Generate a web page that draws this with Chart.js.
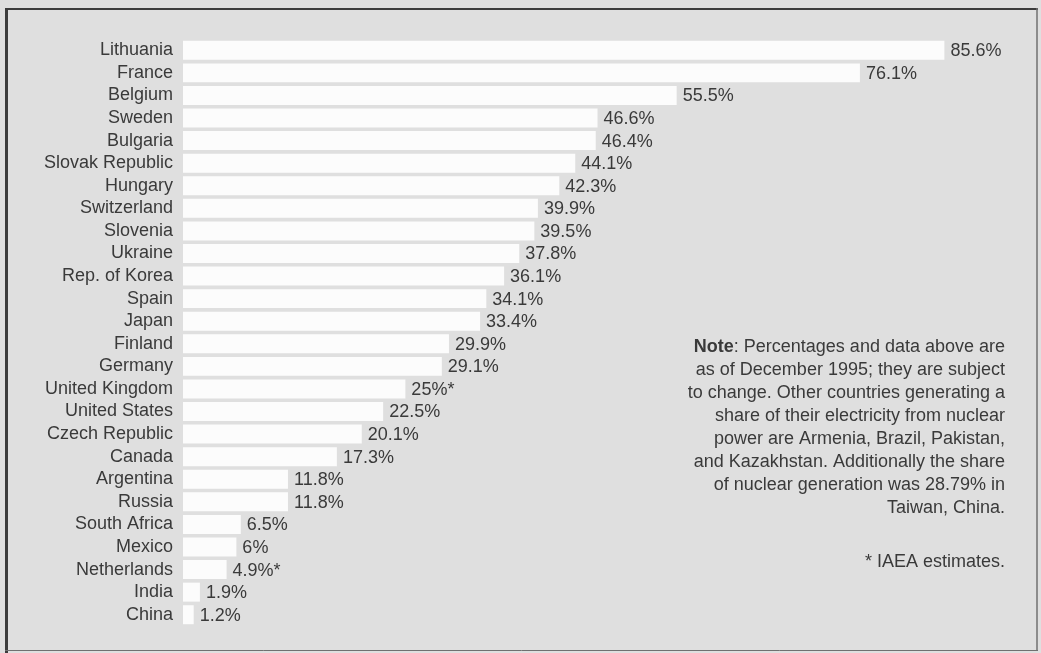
<!DOCTYPE html>
<html>
<head>
<meta charset="utf-8">
<title>Nuclear share of electricity generation</title>
<script src="https://cdn.jsdelivr.net/npm/chart.js@4/dist/chart.umd.min.js"></script>
<style>
  html, body { margin: 0; padding: 0; background: #dfdfdf; }
  canvas { display: block; }
</style>
</head>
<body>
<canvas id="nuclear_chart" width="1041" height="653"></canvas>
<script>
// countries (top to bottom)
const countries = [
  'Lithuania', 'France', 'Belgium', 'Sweden', 'Bulgaria', 'Slovak Republic',
  'Hungary', 'Switzerland', 'Slovenia', 'Ukraine', 'Rep. of Korea', 'Spain',
  'Japan', 'Finland', 'Germany', 'United Kingdom', 'United States',
  'Czech Republic', 'Canada', 'Argentina', 'Russia', 'South Africa', 'Mexico',
  'Netherlands', 'India', 'China',
]

// nuclear share of electricity (%)
const shares = [
  85.6, 76.1, 55.5, 46.6, 46.4, 44.1, 42.3, 39.9, 39.5, 37.8, 36.1, 34.1, 33.4,
  29.9, 29.1, 25, 22.5, 20.1, 17.3, 11.8, 11.8, 6.5, 6, 4.9, 1.9, 1.2,
]

// labels printed at the end of each bar (* = IAEA estimate)
const shareLabels = [
  '85.6%', '76.1%', '55.5%', '46.6%', '46.4%', '44.1%', '42.3%', '39.9%',
  '39.5%', '37.8%', '36.1%', '34.1%', '33.4%', '29.9%', '29.1%', '25%*',
  '22.5%', '20.1%', '17.3%', '11.8%', '11.8%', '6.5%', '6%', '4.9%*', '1.9%',
  '1.2%',
]

// note on the right side
const noteLines = [
  ': Percentages and data above are',
  'as of December 1995; they are subject',
  'to change. Other countries generating a',
  'share of their electricity from nuclear',
  'power are Armenia, Brazil, Pakistan,',
  'and Kazakhstan. Additionally the share',
  'of nuclear generation was 28.79% in',
  'Taiwan, China.',
]
const footnote = '* IAEA estimates.'

const FONT = '"Liberation Sans", Arial, Helvetica, sans-serif'
const SIZE = 18
const TEXT = '#3a3a3a'

// background and frame
const framePlugin = {
  id: 'frame',
  beforeDraw(chart) {
    const c = chart.ctx
    c.save()
    c.fillStyle = '#dfdfdf'
    c.fillRect(0, 0, chart.width, chart.height)
    c.strokeStyle = '#3c3c3c'
    c.lineWidth = 3
    c.beginPath(); c.moveTo(6.5, 8); c.lineTo(6.5, 653); c.stroke()
    c.lineWidth = 2
    c.beginPath(); c.moveTo(5, 9); c.lineTo(1038, 9); c.stroke()
    c.strokeStyle = '#707070'
    c.lineWidth = 1.5
    c.beginPath(); c.moveTo(1037, 8); c.lineTo(1037, 651); c.stroke()
    c.lineWidth = 1
    c.beginPath(); c.moveTo(5, 650.5); c.lineTo(1038, 650.5); c.stroke()
    c.restore()
  },
}

// value labels next to bars + note text
const labelPlugin = {
  id: 'valueLabels',
  afterDatasetsDraw(chart) {
    const c = chart.ctx
    c.save()
    c.font = SIZE + 'px ' + FONT
    c.fillStyle = TEXT
    c.textBaseline = 'middle'
    c.textAlign = 'left'
    chart.getDatasetMeta(0).data.forEach((bar, i) => {
      c.fillText(shareLabels[i], bar.x + 6, bar.y + 1)
    })

    // note, right aligned
    const right = 1005
    c.textAlign = 'right'
    noteLines.forEach((line, i) => {
      const y = 347 + i * 23
      c.font = SIZE + 'px ' + FONT
      c.fillText(line, right, y)
      if (i === 0) {
        const w = c.measureText(line).width
        c.font = 'bold ' + SIZE + 'px ' + FONT
        c.fillText('Note', right - w, y)
      }
    })
    c.font = SIZE + 'px ' + FONT
    c.fillText(footnote, right, 562)
    c.restore()
  },
}

const ctx = document.getElementById('nuclear_chart').getContext('2d')
const nuclear_chart = new Chart(ctx, {
  type: 'bar',
  data: {
    labels: countries,
    datasets: [
      {
        data: shares,
        backgroundColor: '#fcfcfc',
        borderWidth: 0,
        categoryPercentage: 1,
        barPercentage: 0.84,
      },
    ],
  },
  options: {
    indexAxis: 'y',
    responsive: false,
    animation: false,
    layout: { padding: { top: 39, bottom: 27, left: 0, right: 13 } },
    plugins: {
      legend: { display: false },
      tooltip: { enabled: false },
    },
    scales: {
      x: {
        display: false,
        min: 0,
        max: 95,
      },
      y: {
        grid: { display: false, drawTicks: false },
        border: { display: false },
        ticks: {
          padding: 10,
          color: TEXT,
          font: { family: FONT, size: SIZE },
          autoSkip: false,
        },
        afterFit(scale) {
          scale.width = 183
        },
      },
    },
  },
  plugins: [framePlugin, labelPlugin],
})
</script>
</body>
</html>
